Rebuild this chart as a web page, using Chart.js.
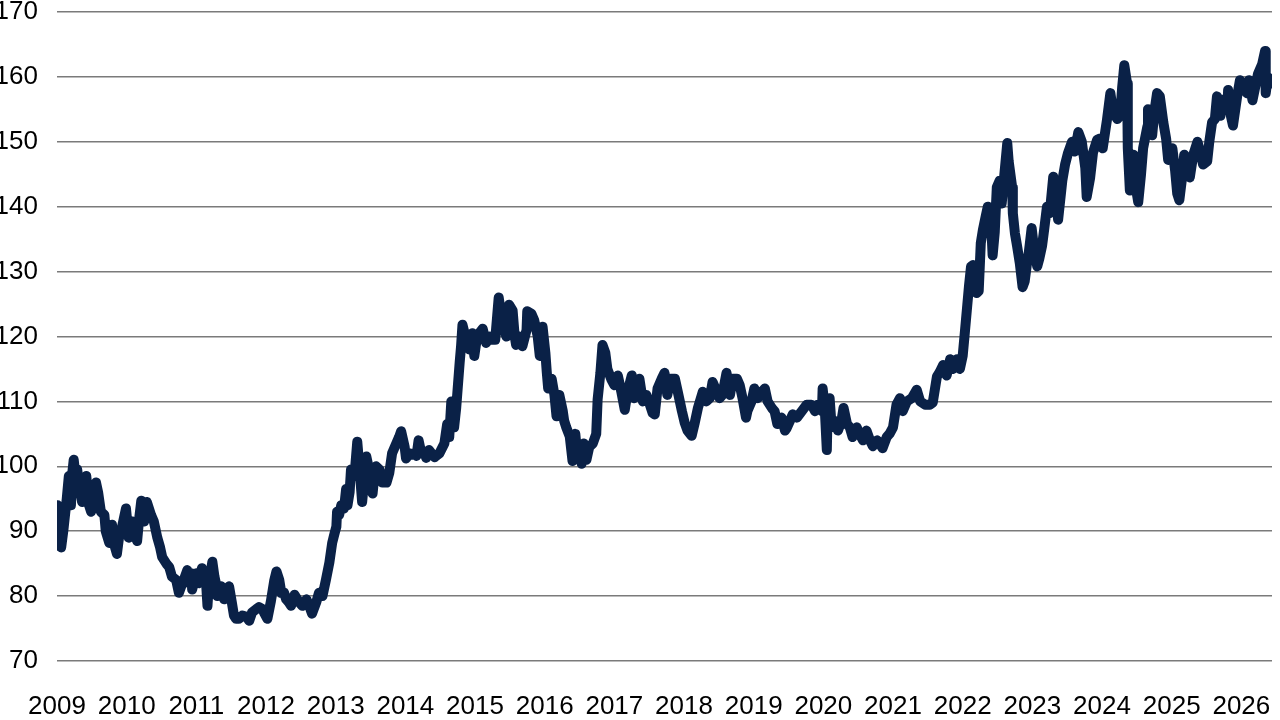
<!DOCTYPE html>
<html>
<head>
<meta charset="utf-8">
<script src="https://cdn.jsdelivr.net/npm/chart.js@4.4.1/dist/chart.umd.min.js"></script>
<style>
  html, body { margin: 0; padding: 0; background: #fff; }
  #wrap { position: relative; width: 1280px; height: 720px; }
</style>
</head>
<body>
<div id="wrap"><canvas id="chart"></canvas></div>
<script>
// ─── Data (decimal years) ───

const dates = [
  2009.00, 2009.01, 2009.03, 2009.04, 2009.06, 2009.09, 2009.11, 2009.14, 2009.17, 2009.20,
  2009.22, 2009.24, 2009.27, 2009.29, 2009.32, 2009.36, 2009.39, 2009.42, 2009.46, 2009.49,
  2009.53, 2009.56, 2009.59, 2009.63, 2009.68, 2009.70, 2009.75, 2009.79, 2009.82, 2009.86,
  2009.89, 2009.92, 2009.96, 2009.99, 2010.03, 2010.08, 2010.12, 2010.15, 2010.18, 2010.21,
  2010.25, 2010.29, 2010.35, 2010.39, 2010.44, 2010.48, 2010.51, 2010.57, 2010.61, 2010.65,
  2010.71, 2010.75, 2010.80, 2010.82, 2010.87, 2010.90, 2010.93, 2010.94, 2011.00, 2011.04,
  2011.08, 2011.11, 2011.14, 2011.16, 2011.18, 2011.23, 2011.26, 2011.28, 2011.30, 2011.33,
  2011.36, 2011.40, 2011.43, 2011.47, 2011.51, 2011.54, 2011.57, 2011.61, 2011.66, 2011.72,
  2011.76, 2011.80, 2011.86, 2011.90, 2011.95, 2011.97, 2012.02, 2012.07, 2012.12, 2012.15,
  2012.19, 2012.22, 2012.26, 2012.29, 2012.33, 2012.36, 2012.41, 2012.45, 2012.48, 2012.52,
  2012.58, 2012.62, 2012.66, 2012.72, 2012.76, 2012.81, 2012.86, 2012.91, 2012.95, 2012.98,
  2013.01, 2013.02, 2013.05, 2013.08, 2013.12, 2013.15, 2013.17, 2013.20, 2013.22, 2013.27,
  2013.31, 2013.34, 2013.38, 2013.41, 2013.44, 2013.48, 2013.53, 2013.55, 2013.58, 2013.63,
  2013.67, 2013.73, 2013.77, 2013.81, 2013.87, 2013.91, 2013.94, 2013.99, 2014.01, 2014.06,
  2014.09, 2014.13, 2014.16, 2014.19, 2014.23, 2014.27, 2014.30, 2014.34, 2014.42, 2014.49,
  2014.56, 2014.60, 2014.63, 2014.66, 2014.70, 2014.73, 2014.78, 2014.80, 2014.82, 2014.85,
  2014.88, 2014.92, 2014.96, 2014.99, 2015.03, 2015.06, 2015.11, 2015.16, 2015.21, 2015.24,
  2015.29, 2015.34, 2015.38, 2015.42, 2015.45, 2015.49, 2015.54, 2015.57, 2015.59, 2015.64,
  2015.68, 2015.74, 2015.75, 2015.81, 2015.85, 2015.90, 2015.93, 2015.97, 2016.01, 2016.03,
  2016.05, 2016.10, 2016.14, 2016.17, 2016.21, 2016.26, 2016.28, 2016.31, 2016.36, 2016.40,
  2016.44, 2016.47, 2016.50, 2016.53, 2016.56, 2016.60, 2016.64, 2016.69, 2016.74, 2016.76,
  2016.80, 2016.83, 2016.87, 2016.90, 2016.96, 2017.00, 2017.05, 2017.10, 2017.15, 2017.19,
  2017.25, 2017.28, 2017.32, 2017.36, 2017.41, 2017.46, 2017.51, 2017.55, 2017.58, 2017.62,
  2017.68, 2017.72, 2017.76, 2017.81, 2017.87, 2017.91, 2017.97, 2018.01, 2018.05, 2018.11,
  2018.15, 2018.20, 2018.27, 2018.32, 2018.37, 2018.41, 2018.47, 2018.51, 2018.55, 2018.61,
  2018.66, 2018.70, 2018.76, 2018.80, 2018.84, 2018.89, 2018.91, 2018.97, 2019.01, 2019.06,
  2019.12, 2019.16, 2019.20, 2019.26, 2019.30, 2019.34, 2019.40, 2019.45, 2019.47, 2019.52,
  2019.56, 2019.62, 2019.69, 2019.76, 2019.83, 2019.88, 2019.92, 2019.98, 2019.99, 2020.02,
  2020.05, 2020.06, 2020.09, 2020.12, 2020.16, 2020.21, 2020.26, 2020.29, 2020.34, 2020.38,
  2020.42, 2020.48, 2020.52, 2020.57, 2020.62, 2020.67, 2020.71, 2020.77, 2020.81, 2020.85,
  2020.91, 2020.95, 2021.00, 2021.05, 2021.10, 2021.14, 2021.20, 2021.27, 2021.34, 2021.39,
  2021.46, 2021.53, 2021.57, 2021.63, 2021.67, 2021.72, 2021.77, 2021.82, 2021.86, 2021.92,
  2021.96, 2022.00, 2022.03, 2022.06, 2022.09, 2022.12, 2022.15, 2022.18, 2022.20, 2022.23,
  2022.26, 2022.29, 2022.33, 2022.36, 2022.41, 2022.43, 2022.46, 2022.49, 2022.53, 2022.56,
  2022.59, 2022.64, 2022.66, 2022.71, 2022.72, 2022.75, 2022.78, 2022.82, 2022.86, 2022.89,
  2022.92, 2022.95, 2022.99, 2023.02, 2023.07, 2023.10, 2023.14, 2023.17, 2023.21, 2023.25,
  2023.30, 2023.34, 2023.37, 2023.43, 2023.47, 2023.51, 2023.57, 2023.61, 2023.66, 2023.71,
  2023.76, 2023.78, 2023.83, 2023.87, 2023.93, 2023.97, 2024.01, 2024.07, 2024.12, 2024.16,
  2024.22, 2024.26, 2024.29, 2024.32, 2024.36, 2024.37, 2024.40, 2024.45, 2024.47, 2024.52,
  2024.56, 2024.59, 2024.65, 2024.66, 2024.72, 2024.75, 2024.79, 2024.83, 2024.88, 2024.92,
  2024.95, 2025.01, 2025.05, 2025.08, 2025.11, 2025.15, 2025.18, 2025.22, 2025.26, 2025.31,
  2025.37, 2025.41, 2025.45, 2025.51, 2025.54, 2025.58, 2025.62, 2025.65, 2025.70, 2025.74,
  2025.80, 2025.81, 2025.85, 2025.88, 2025.94, 2025.98, 2026.03, 2026.08, 2026.11, 2026.16,
  2026.20, 2026.24, 2026.30, 2026.34, 2026.35, 2026.38, 2026.44
];

const values = [
  91.0, 94.0, 88.5, 93.5, 87.5, 90.0, 92.0, 95.0, 98.5, 94.0,
  99.0, 101.0, 98.0, 99.5, 97.0, 94.5, 96.0, 98.5, 94.0, 93.0,
  95.0, 97.5, 96.0, 93.0, 92.5, 90.0, 88.2, 91.0, 88.0, 86.5,
  89.0, 90.0, 92.0, 93.5, 89.0, 91.5, 89.5, 88.5, 92.0, 94.7,
  91.5, 94.5, 92.5, 91.5, 89.0, 87.5, 86.0, 85.0, 84.5, 83.0,
  82.5, 80.5, 82.0, 82.5, 84.0, 82.0, 83.5, 81.0, 83.5, 82.0,
  84.3, 82.5, 82.0, 78.5, 82.0, 85.3, 83.0, 82.0, 80.0, 81.4,
  81.5, 79.5, 80.0, 81.5, 79.0, 77.0, 76.5, 76.5, 77.0, 76.8,
  76.2, 77.5, 78.0, 78.3, 78.0, 77.5, 76.5, 79.2, 82.5, 83.8,
  82.5, 80.5, 80.5, 79.5, 79.0, 78.5, 80.2, 79.5, 79.0, 78.5,
  79.5, 78.5, 77.3, 79.0, 80.5, 80.0, 82.5, 85.2, 88.2, 89.5,
  90.7, 93.0, 92.5, 94.0, 93.5, 96.5, 94.0, 96.0, 99.5, 98.5,
  103.8, 100.0, 94.5, 98.0, 101.5, 99.5, 95.8, 98.0, 100.0, 99.5,
  97.5, 97.5, 99.0, 102.0, 103.5, 104.5, 105.4, 103.0, 101.2, 102.0,
  101.8, 102.0, 101.6, 104.0, 102.0, 102.3, 101.3, 102.5, 101.4, 102.0,
  103.5, 106.5, 104.5, 110.0, 106.0, 109.0, 116.0, 118.5, 121.8, 120.5,
  120.0, 118.0, 120.5, 117.0, 120.0, 120.5, 121.2, 119.0, 120.0, 119.5,
  119.5, 126.0, 123.0, 121.0, 120.0, 124.9, 124.0, 120.0, 118.7, 120.0,
  118.5, 121.0, 123.9, 123.5, 122.5, 120.0, 117.0, 121.5, 117.5, 114.5,
  112.0, 113.5, 111.0, 107.7, 111.0, 108.5, 107.0, 106.0, 104.6, 100.8,
  105.0, 101.5, 103.0, 100.4, 103.5, 101.0, 103.0, 103.5, 105.0, 110.3,
  114.4, 118.7, 117.5, 115.0, 113.3, 112.5, 114.0, 111.5, 108.7, 111.5,
  114.0, 110.5, 113.0, 113.5, 110.0, 111.0, 109.5, 108.2, 108.0, 112.0,
  113.5, 114.4, 111.0, 113.5, 113.5, 111.5, 108.5, 106.7, 105.5, 104.7,
  106.5, 109.0, 111.5, 110.0, 110.5, 113.0, 111.5, 110.5, 111.0, 114.4,
  111.0, 113.5, 113.5, 112.5, 110.5, 107.5, 108.5, 110.0, 112.0, 110.5,
  111.5, 112.0, 110.0, 109.0, 108.5, 106.5, 107.5, 105.5, 105.8, 107.0,
  108.0, 107.5, 108.5, 109.5, 109.5, 108.5, 109.5, 108.5, 112.0, 109.0,
  102.5, 108.0, 110.5, 106.0, 107.0, 105.5, 107.0, 109.0, 106.5, 106.0,
  104.5, 106.0, 105.0, 104.0, 105.5, 104.0, 103.1, 104.0, 103.5, 102.8,
  104.5, 105.0, 106.0, 109.5, 110.5, 108.5, 110.0, 110.5, 111.8, 110.0,
  109.5, 109.5, 109.8, 113.8, 114.5, 115.6, 114.0, 116.5, 115.0, 116.5,
  115.0, 117.0, 120.5, 124.1, 127.7, 130.8, 131.0, 130.0, 126.7, 127.0,
  134.4, 136.4, 138.5, 140.0, 137.0, 132.5, 136.0, 143.0, 144.0, 140.5,
  144.0, 149.8, 147.0, 143.0, 139.0, 135.9, 134.0, 131.3, 127.6, 128.5,
  131.0, 133.0, 136.7, 134.0, 130.8, 132.0, 134.0, 136.5, 140.0, 139.0,
  144.6, 141.0, 138.0, 144.0, 146.5, 148.2, 150.0, 148.5, 151.5, 150.0,
  146.0, 141.5, 144.5, 148.3, 150.3, 150.5, 149.0, 153.3, 157.5, 154.5,
  153.5, 154.0, 158.5, 161.8, 159.0, 149.0, 142.5, 148.0, 144.0, 140.7,
  145.0, 149.0, 152.3, 155.0, 151.0, 154.5, 157.5, 157.0, 153.0, 150.5,
  147.2, 149.0, 145.5, 142.0, 141.0, 144.5, 148.0, 146.0, 144.5, 148.0,
  150.0, 148.5, 146.5, 147.0, 150.0, 153.0, 153.5, 157.0, 154.0, 156.5,
  155.0, 158.0, 154.0, 152.5, 157.0, 159.5, 158.5, 157.5, 159.5, 156.4,
  158.5, 160.5, 162.0, 164.0, 157.5, 160.0, 159.0
];

// ─── Axis settings ───

const yMin = 70;
const yMax = 170;
const yStep = 10;
const xFirstYear = 2009;
const xLastYear = 2026;
const xEnd = 2026.44;

const LINE_COLOR = '#0a2147';
const GRID_COLOR = '#7a7a7a';
const FONT = { family: "'Liberation Sans', Arial, sans-serif", size: 26 };

const points = dates.map((d, i) => ({ x: d, y: values[i] }));

new Chart(document.getElementById('chart'), {
  type: 'line',
  data: {
    datasets: [{
      data: points,
      borderColor: LINE_COLOR,
      borderWidth: 10,
      borderJoinStyle: 'round',
      borderCapStyle: 'round',
      pointRadius: 0,
      tension: 0,
      fill: false,
    }],
  },
  options: {
    responsive: true,
    maintainAspectRatio: false,
    animation: false,
    layout: { padding: { top: 12, right: 8, bottom: 0, left: 0 } },
    plugins: { legend: { display: false }, tooltip: { enabled: false } },
    scales: {
      x: {
        type: 'linear',
        min: xFirstYear,
        max: xEnd,
        grid: { display: false, drawTicks: false },
        border: { display: false },
        ticks: {
          stepSize: 1,
          autoSkip: false,
          maxRotation: 0,
          includeBounds: false,
          color: '#000',
          font: FONT,
          padding: 30,
          callback: v => (Number.isInteger(v) && v <= xLastYear) ? String(v) : '',
        },
        afterFit: s => { s.height = 59; s.paddingLeft = 0; s.paddingRight = 0; },
      },
      y: {
        min: yMin,
        max: yMax,
        grid: { color: GRID_COLOR, lineWidth: 1.5, drawTicks: false },
        border: { display: false },
        ticks: {
          stepSize: yStep,
          color: '#000',
          font: FONT,
          padding: 19,
        },
        afterFit: s => { s.width = 57; s.paddingTop = 0; s.paddingBottom = 0; },
      },
    },
  },
});
</script>
</body>
</html>
